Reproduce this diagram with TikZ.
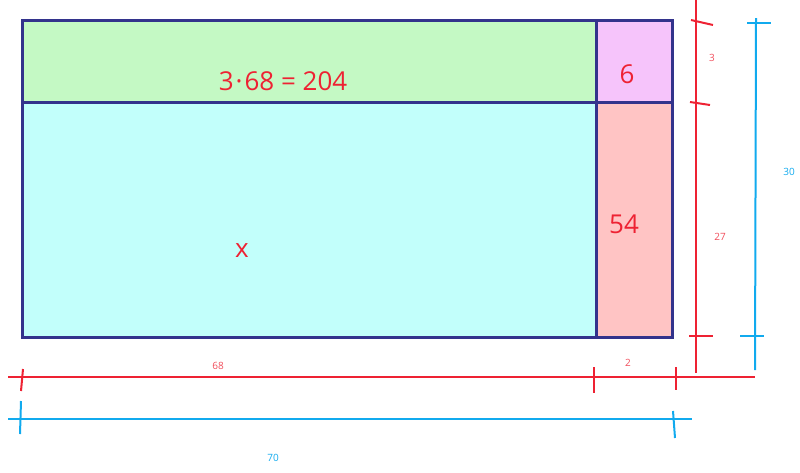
\documentclass[tikz,border=0pt]{standalone}
\usepackage{fontspec}
\setmainfont{Open Sans}
\usetikzlibrary{positioning}

\definecolor{boxline}{HTML}{33338C}
\definecolor{boxgreen}{HTML}{C4F9C4}
\definecolor{boxcyan}{HTML}{C2FFFB}
\definecolor{boxpink}{HTML}{F6C4FB}
\definecolor{boxrose}{HTML}{FFC4C4}
\definecolor{dimred}{HTML}{EE2233}
\definecolor{dimblue}{HTML}{11AAEE}

\tikzset{
  frame/.style={draw=boxline,line width=3pt},
  redline/.style={dimred,line width=2pt},
  blueline/.style={dimblue,line width=2pt},
  biglabel/.style={text=dimred,font=\fontsize{26}{26}\selectfont},
  redlabel/.style={text=dimred!80,font=\fontsize{10}{10}\selectfont},
  bluelabel/.style={text=dimblue,font=\fontsize{10}{10}\selectfont}
}

\begin{document}
\begin{tikzpicture}[x=1pt,y=-1pt]
\tikzstyle{every node}+=[inner sep=0pt]
\useasboundingbox (0,0) rectangle (800,472);
% the four fields
\fill [boxgreen] (22,20) rectangle (596,102);
\fill [boxpink] (596,20) rectangle (672,102);
\fill [boxcyan] (22,102) rectangle (596,337);
\fill [boxrose] (596,102) rectangle (672,337);
\draw [frame] (22,20) rectangle (672,337);
\draw [frame] (22,102) -- (672,102);
\draw [frame] (596,20) -- (596,337);
\node [biglabel] (top) at (283,81) {3\kern2pt·\kern2pt68 = 204};
\node [biglabel] (corner) at (627,74) {6};
\node [biglabel] (side) at (624,224) {54};
\node [biglabel] (unknown) at (242,251) {x};
% red measures
\draw [redline] (696,0) -- (696,373);
\draw [redline] (691,20) -- (713,25);
\draw [redline] (690,102) -- (710,105);
\draw [redline] (689,336) -- (713,336);
\draw [redline] (8,377) -- (755,377);
\draw [redline] (23,369) -- (21,391);
\draw [redline] (594,367) -- (594,393);
\draw [redline] (676,367) -- (676,390);
\node [redlabel] (w68) at (218,366) {68};
\node [redlabel] (w2) at (628,363) {2};
\node [redlabel] (h3) at (712,58) {3};
\node [redlabel] (h27) at (720,237) {27};
% blue measures
\draw [blueline] (756,18) -- (755,370);
\draw [blueline] (747,23) -- (771,23);
\draw [blueline] (740,336) -- (764,336);
\draw [blueline] (8,419) -- (692,419);
\draw [blueline] (21,401) -- (20,434);
\draw [blueline] (673,411) -- (675,438);
\node [bluelabel] (h30) at (789,172) {30};
\node [bluelabel] (w70) at (273,458) {70};
\end{tikzpicture}
\end{document}
